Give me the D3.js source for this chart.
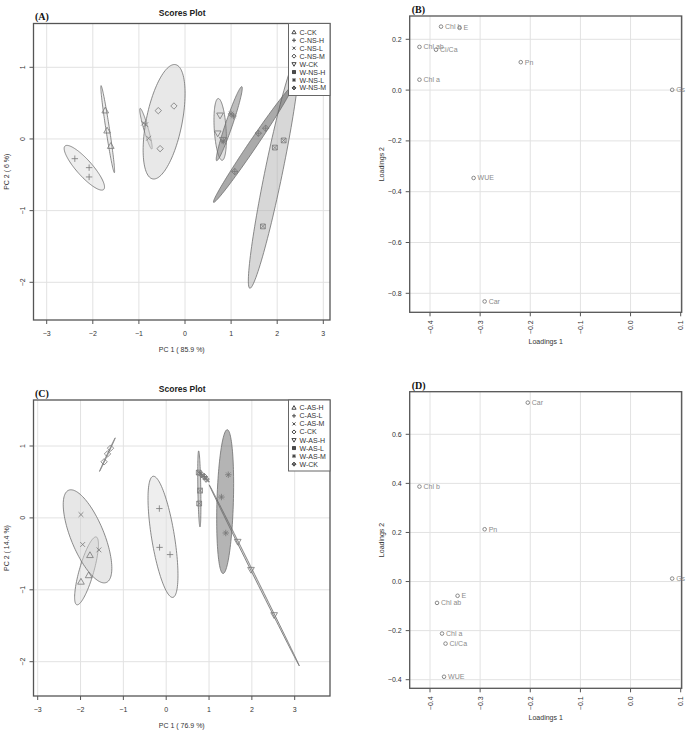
<!DOCTYPE html>
<html>
<head>
<meta charset="utf-8">
<script src="https://cdn.jsdelivr.net/npm/d3@7"></script>
<style>
  body { margin: 0; background: #fff; }
  svg text { font-family: "Liberation Sans", Arial, sans-serif; }
  .tick-label { font-size: 7px; fill: #333; }
  .axis-title { font-size: 7px; fill: #333; }
  .plot-title { font-size: 8.5px; font-weight: bold; fill: #222; }
  .panel-tag { font-family: "Liberation Serif", "Times New Roman", serif !important; font-size: 10px; font-weight: bold; fill: #111; }
  .grid { stroke: #e2e2e2; stroke-width: 1; }
  .frame { fill: none; stroke: #555; stroke-width: 1.3; }
  .tickmark { stroke: #555; stroke-width: 1; }
  .ell { stroke: #6e6e6e; stroke-width: 0.8; }
  .pt { fill: none; stroke: #777; stroke-width: 0.8; }
  .leg-pt { fill: none; stroke: #444; stroke-width: 1; }
  .leg-text { font-size: 7px; fill: #333; }
  .load-label { font-size: 7px; fill: #8a8a8a; }
  .load-pt { fill: none; stroke: #888; stroke-width: 1; }
</style>
</head>
<body>
<script>
// ---------- Panel A : scores (NS) ----------
var groupsA = ["C-CK", "C-NS-H", "C-NS-L", "C-NS-M", "W-CK", "W-NS-H", "W-NS-L", "W-NS-M"];
var scoreGroupA = ["C-CK","C-CK","C-CK", "C-NS-H","C-NS-H","C-NS-H", "C-NS-L","C-NS-L","C-NS-L",
                   "C-NS-M","C-NS-M","C-NS-M", "W-CK","W-CK","W-CK", "W-NS-H","W-NS-H","W-NS-H",
                   "W-NS-L","W-NS-L","W-NS-L", "W-NS-M","W-NS-M","W-NS-M"];
var pc1A = [-1.73, -1.69, -1.61,  -2.39, -2.08, -2.08,  -0.90, -0.85, -0.79,
            -0.58, -0.24, -0.54,   0.76,  0.71,  0.82,   2.14,  1.95,  1.69,
             1.00,  1.05,  0.83,   1.59,  1.75,  1.08];
var pc2A = [ 0.395, 0.115, -0.10, -0.275, -0.40, -0.53,  0.22,  0.20,  0.01,
             0.395, 0.46, -0.135,  0.33,  0.08, -0.01,  -0.02, -0.12, -1.22,
             0.35,  0.32, -0.03,   0.08,  0.15, -0.455];
var xTicksA = [-3, -2, -1, 0, 1, 2, 3];
var yTicksA = [-2, -1, 0, 1];

// ---------- Panel C : scores (AS) ----------
var groupsC = ["C-AS-H", "C-AS-L", "C-AS-M", "C-CK", "W-AS-H", "W-AS-L", "W-AS-M", "W-CK"];
var scoreGroupC = ["C-AS-H","C-AS-H","C-AS-H", "C-AS-L","C-AS-L","C-AS-L", "C-AS-M","C-AS-M","C-AS-M",
                   "C-CK","C-CK","C-CK", "W-AS-H","W-AS-H","W-AS-H", "W-AS-L","W-AS-L","W-AS-L",
                   "W-AS-M","W-AS-M","W-AS-M", "W-CK","W-CK","W-CK"];
var pc1C = [-1.78, -1.81, -1.99,  -0.16, -0.155, 0.09,  -1.99, -1.95, -1.57,
            -1.45, -1.37, -1.30,   1.67,  1.98,  2.52,   0.76,  0.79,  0.77,
             1.45,  1.29,  1.39,   0.83,  0.89,  0.93];
var pc2C = [-0.52, -0.80, -0.89,   0.13, -0.41, -0.51,   0.046, -0.37, -0.445,
             0.78,  0.89,  0.97,  -0.33, -0.72, -1.35,   0.63,  0.38,  0.20,
             0.60,  0.29, -0.21,   0.60,  0.575, 0.54];
var xTicksC = [-3, -2, -1, 0, 1, 2, 3];
var yTicksC = [-2, -1, 0, 1];

// ---------- Panels B / D : loadings ----------
var varsB  = ["Chl b", "E", "Chl ab", "Ci/Ca", "Pn", "Chl a", "Gs", "WUE", "Car"];
var load1B = [-0.378, -0.341, -0.421, -0.388, -0.219, -0.421, 0.083, -0.313, -0.291];
var load2B = [ 0.250,  0.245,  0.170,  0.159,  0.110,  0.041, 0.001, -0.346, -0.832];
var yTicksB = [-0.8, -0.6, -0.4, -0.2, 0.0, 0.2];

var varsD  = ["Car", "Chl b", "Pn", "Gs", "E", "Chl ab", "Chl a", "Ci/Ca", "WUE"];
var load1D = [-0.205, -0.421, -0.291, 0.083, -0.345, -0.386, -0.376, -0.369, -0.372];
var load2D = [ 0.729,  0.387,  0.213, 0.012, -0.058, -0.087, -0.212, -0.253, -0.388];
var yTicksD = [-0.4, -0.2, 0.0, 0.2, 0.4, 0.6];

var xTicksLoad = [-0.4, -0.3, -0.2, -0.1, 0.0, 0.1];

// ellipse fill greys per group index (drawn half transparent)
var ellFillA = ["#dcdcdc", "#dedede", "#cdcdcd", "#d2d2d2", "#c4c4c4", "#b0b0b0", "#7c7c7c", "#555555"];
var ellFillC = ["#dcdcdc", "#dedede", "#cfcfcf", "#cccccc", "#bababa", "#a8a8a8", "#6a6a6a", "#555555"];

var W = 688, H = 735;
var svg = d3.select("body").append("svg").attr("width", W).attr("height", H);

var clipN = 0;

// R pch symbols 2..9
function symbolPath(k, r) {
    var t = r * 1.1;
    switch (k) {
        case 0: return "M0," + (-t) + "L" + (t*0.95) + "," + (t*0.65) + "L" + (-t*0.95) + "," + (t*0.65) + "Z";
        case 1: return "M" + (-r) + ",0H" + r + "M0," + (-r) + "V" + r;
        case 2: return "M" + (-r*0.75) + "," + (-r*0.75) + "L" + (r*0.75) + "," + (r*0.75) + "M" + (-r*0.75) + "," + (r*0.75) + "L" + (r*0.75) + "," + (-r*0.75);
        case 3: return "M0," + (-r) + "L" + r + ",0L0," + r + "L" + (-r) + ",0Z";
        case 4: return "M0," + t + "L" + (t*0.95) + "," + (-t*0.65) + "L" + (-t*0.95) + "," + (-t*0.65) + "Z";
        case 5: var q = r*0.75; return "M" + (-q) + "," + (-q) + "H" + q + "V" + q + "H" + (-q) + "ZM" + (-q) + "," + (-q) + "L" + q + "," + q + "M" + (-q) + "," + q + "L" + q + "," + (-q);
        case 6: var s = r*0.7; return "M" + (-r) + ",0H" + r + "M0," + (-r) + "V" + r + "M" + (-s) + "," + (-s) + "L" + s + "," + s + "M" + (-s) + "," + s + "L" + s + "," + (-s);
        default: return "M0," + (-r) + "L" + r + ",0L0," + r + "L" + (-r) + ",0ZM" + (-r) + ",0H" + r + "M0," + (-r) + "V" + r;
    }
}

// 95% data ellipse (chi-square, 2 df) from sample covariance
function ellipseData(xs, ys) {
    var n = xs.length;
    var mx = d3.mean(xs), my = d3.mean(ys);
    var sxx = 0, syy = 0, sxy = 0;
    for (var i = 0; i < n; i++) {
        sxx += (xs[i]-mx)*(xs[i]-mx);
        syy += (ys[i]-my)*(ys[i]-my);
        sxy += (xs[i]-mx)*(ys[i]-my);
    }
    sxx /= (n-1); syy /= (n-1); sxy /= (n-1);
    var tr = sxx + syy, det = sxx*syy - sxy*sxy;
    var disc = Math.sqrt(Math.max(tr*tr/4 - det, 0));
    var l1 = tr/2 + disc, l2 = Math.max(tr/2 - disc, 0);
    var ang = 0.5 * Math.atan2(2*sxy, sxx - syy);
    var t = Math.sqrt(5.991464547);
    var a = t*Math.sqrt(l1), b = t*Math.sqrt(l2);
    var pts = [];
    for (var k = 0; k < 120; k++) {
        var th = 2*Math.PI*k/120;
        var ex = a*Math.cos(th), ey = b*Math.sin(th);
        pts.push([mx + ex*Math.cos(ang) - ey*Math.sin(ang), my + ex*Math.sin(ang) + ey*Math.cos(ang)]);
    }
    return pts;
}

function frameAndAxes(g, box, x, y, xTicks, yTicks, opts) {
    // grid
    xTicks.forEach(function(v) {
        g.append("line").attr("class", "grid")
            .attr("x1", x(v)).attr("x2", x(v)).attr("y1", box.top).attr("y2", box.bottom);
    });
    yTicks.forEach(function(v) {
        g.append("line").attr("class", "grid")
            .attr("x1", box.left).attr("x2", box.right).attr("y1", y(v)).attr("y2", y(v));
    });
    // tick marks + labels
    xTicks.forEach(function(v) {
        g.append("line").attr("class", "tickmark")
            .attr("x1", x(v)).attr("x2", x(v)).attr("y1", box.bottom).attr("y2", box.bottom + 4);
        if (opts.rotXLabels) {
            g.append("text").attr("class", "tick-label")
                .attr("transform", "translate(" + (x(v) + 2.5) + "," + (box.bottom + 8) + ") rotate(-90)")
                .attr("text-anchor", "end")
                .text(opts.xFmt(v));
        } else {
            g.append("text").attr("class", "tick-label")
                .attr("x", x(v)).attr("y", box.bottom + 15.5)
                .attr("text-anchor", "middle")
                .text(opts.xFmt(v));
        }
    });
    yTicks.forEach(function(v) {
        g.append("line").attr("class", "tickmark")
            .attr("x1", box.left - 4).attr("x2", box.left).attr("y1", y(v)).attr("y2", y(v));
        if (opts.rotYLabels) {
            g.append("text").attr("class", "tick-label")
                .attr("transform", "translate(" + (box.left - 8.5) + "," + y(v) + ") rotate(-90)")
                .attr("text-anchor", "middle")
                .text(opts.yFmt(v));
        } else {
            g.append("text").attr("class", "tick-label")
                .attr("x", box.left - 8).attr("y", y(v) + 2.5)
                .attr("text-anchor", "end")
                .text(opts.yFmt(v));
        }
    });
}

function scoresPanel(cfg) {
    var box = cfg.box;
    var x = d3.scaleLinear().domain([cfg.xTicks[0], cfg.xTicks[cfg.xTicks.length-1]]).range(cfg.xRange);
    var y = d3.scaleLinear().domain([cfg.yTicks[0], cfg.yTicks[cfg.yTicks.length-1]]).range(cfg.yRange);
    var g = svg.append("g");

    frameAndAxes(g, box, x, y, cfg.xTicks, cfg.yTicks, {
        rotYLabels: true, rotXLabels: false,
        xFmt: d3.format("d"), yFmt: d3.format("d")
    });

    clipN++;
    g.append("clipPath").attr("id", "clip" + clipN).append("rect")
        .attr("x", box.left).attr("y", box.top)
        .attr("width", box.right - box.left).attr("height", box.bottom - box.top);
    var inner = g.append("g").attr("clip-path", "url(#clip" + clipN + ")");

    var line = d3.line().x(function(d) { return x(d[0]); }).y(function(d) { return y(d[1]); })
        .curve(d3.curveLinearClosed);

    // ellipses
    cfg.groups.forEach(function(grp, gi) {
        var xs = [], ys = [];
        cfg.groupOf.forEach(function(lab, i) { if (lab === grp) { xs.push(cfg.pc1[i]); ys.push(cfg.pc2[i]); } });
        inner.append("path").attr("class", "ell")
            .attr("d", line(ellipseData(xs, ys)))
            .attr("fill", cfg.fills[gi])
            .attr("fill-opacity", 0.5);
    });

    // points
    cfg.groupOf.forEach(function(lab, i) {
        var gi = cfg.groups.indexOf(lab);
        inner.append("path").attr("class", "pt")
            .attr("transform", "translate(" + x(cfg.pc1[i]) + "," + y(cfg.pc2[i]) + ")")
            .attr("d", symbolPath(gi, 3.2));
    });

    g.append("rect").attr("class", "frame")
        .attr("x", box.left).attr("y", box.top)
        .attr("width", box.right - box.left).attr("height", box.bottom - box.top);

    // legend
    var lg = cfg.legend;
    g.append("rect").attr("x", lg.left).attr("y", box.top)
        .attr("width", box.right - lg.left).attr("height", lg.bottom - box.top)
        .attr("fill", "#fff").attr("stroke", "#666").attr("stroke-width", 1);
    cfg.groups.forEach(function(grp, gi) {
        var ry = lg.firstY + gi * lg.step;
        g.append("path").attr("class", "leg-pt")
            .attr("transform", "translate(" + (lg.left + 5.5) + "," + ry + ")")
            .attr("d", symbolPath(gi, 2));
        g.append("text").attr("class", "leg-text")
            .attr("x", lg.left + 11).attr("y", ry + 2.5).text(grp);
    });

    // titles
    var cx = (box.left + box.right) / 2;
    g.append("text").attr("class", "plot-title").attr("x", cx + 0.5).attr("y", cfg.titleY)
        .attr("text-anchor", "middle").text("Scores Plot");
    g.append("text").attr("class", "panel-tag").attr("x", box.left + 1.5).attr("y", cfg.tagY).text(cfg.tag);
    g.append("text").attr("class", "axis-title").attr("x", cx).attr("y", cfg.xLabelY)
        .attr("text-anchor", "middle").text(cfg.xLabel);
    g.append("text").attr("class", "axis-title")
        .attr("transform", "translate(9," + ((box.top + box.bottom) / 2) + ") rotate(-90)")
        .attr("text-anchor", "middle").text(cfg.yLabel);
}

function loadingsPanel(cfg) {
    var box = cfg.box;
    var x = d3.scaleLinear().domain([cfg.xTicks[0], cfg.xTicks[cfg.xTicks.length-1]]).range(cfg.xRange);
    var y = d3.scaleLinear().domain([cfg.yTicks[0], cfg.yTicks[cfg.yTicks.length-1]]).range(cfg.yRange);
    var g = svg.append("g");

    frameAndAxes(g, box, x, y, cfg.xTicks, cfg.yTicks, {
        rotYLabels: false, rotXLabels: true,
        xFmt: d3.format(".1f"), yFmt: d3.format(".1f")
    });

    g.append("rect").attr("class", "frame")
        .attr("x", box.left).attr("y", box.top)
        .attr("width", box.right - box.left).attr("height", box.bottom - box.top);

    cfg.vars.forEach(function(v, i) {
        g.append("circle").attr("class", "load-pt")
            .attr("cx", x(cfg.l1[i])).attr("cy", y(cfg.l2[i])).attr("r", 1.8);
        g.append("text").attr("class", "load-label")
            .attr("x", x(cfg.l1[i]) + 4).attr("y", y(cfg.l2[i]) + 2.5).text(v);
    });

    var cx = (box.left + box.right) / 2;
    g.append("text").attr("class", "panel-tag").attr("x", box.left + 2).attr("y", cfg.tagY).text(cfg.tag);
    g.append("text").attr("class", "axis-title").attr("x", cx).attr("y", cfg.xLabelY)
        .attr("text-anchor", "middle").text("Loadings 1");
    g.append("text").attr("class", "axis-title")
        .attr("transform", "translate(384," + ((box.top + box.bottom) / 2) + ") rotate(-90)")
        .attr("text-anchor", "middle").text("Loadings 2");
}

scoresPanel({
    tag: "(A)", tagY: 20, titleY: 15.5, xLabelY: 351.5,
    xLabel: "PC 1 ( 85.9 %)", yLabel: "PC 2 ( 6 %)",
    box: { left: 33.5, right: 330, top: 23.5, bottom: 320 },
    xTicks: xTicksA, yTicks: yTicksA,
    xRange: [46.7, 323.3], yRange: [282.3, 67.3],
    groups: groupsA, groupOf: scoreGroupA, pc1: pc1A, pc2: pc2A, fills: ellFillA,
    legend: { left: 288.5, bottom: 95.5, firstY: 32.3, step: 7.95 }
});

scoresPanel({
    tag: "(C)", tagY: 396.5, titleY: 391.5, xLabelY: 728,
    xLabel: "PC 1 ( 76.9 %)", yLabel: "PC 2 ( 14.4 %)",
    box: { left: 33.5, right: 330, top: 400, bottom: 696 },
    xTicks: xTicksC, yTicks: yTicksC,
    xRange: [37.7, 294.7], yRange: [661.7, 446],
    groups: groupsC, groupOf: scoreGroupC, pc1: pc1C, pc2: pc2C, fills: ellFillC,
    legend: { left: 288.5, bottom: 471, firstY: 407.8, step: 8.05 }
});

loadingsPanel({
    tag: "(B)", tagY: 13, xLabelY: 344,
    box: { left: 409.7, right: 681.7, top: 16, bottom: 312.3 },
    xTicks: xTicksLoad, yTicks: yTicksB,
    xRange: [430, 680.7], yRange: [293.3, 39.3],
    vars: varsB, l1: load1B, l2: load2B
});

loadingsPanel({
    tag: "(D)", tagY: 388.5, xLabelY: 720,
    box: { left: 409.7, right: 681.7, top: 391.7, bottom: 688.3 },
    xTicks: xTicksLoad, yTicks: yTicksD,
    xRange: [430, 680.7], yRange: [679.7, 434.3],
    vars: varsD, l1: load1D, l2: load2D
});
</script>
</body>
</html>
